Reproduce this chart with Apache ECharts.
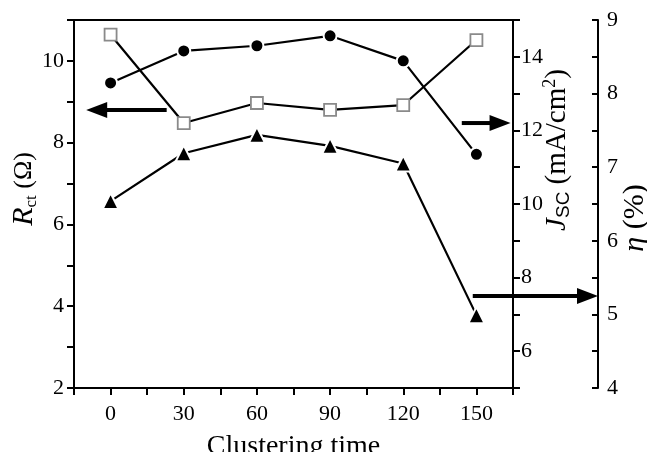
<!DOCTYPE html>
<html>
<head>
<meta charset="utf-8">
<script src="https://cdn.jsdelivr.net/npm/echarts@6/dist/echarts.min.js"></script>
<style>
  html, body { margin: 0; padding: 0; background: #fff; }
  #chart { width: 647px; height: 452px; }
</style>
</head>
<body>
<div id="chart"></div>
<script>
// clustering time (x) and the three measured quantities
const times = [0, 30, 60, 90, 120, 150];
const rct = [10.64, 8.48, 8.97, 8.80, 8.92, 10.51];   // open squares, left axis
const jsc = [13.29, 14.16, 14.30, 14.57, 13.89, 11.35]; // filled circles, Jsc axis
const eta = [6.54, 7.19, 7.44, 7.29, 7.05, 4.99];      // filled triangles, eta axis

// arrow annotations in data space: [x tail, x tip, y]
const rctArrow = [23, -10, 8.8];
const jscArrow = [144, 164, 12.2];
const etaArrow = [148.5, null, 5.25];

const FONT = '"Liberation Serif", "DejaVu Serif", serif';
const ETA_OFFSET = 85;

const chart = echarts.init(document.getElementById('chart'));

const pairs = vals => times.map((t, i) => [t, vals[i]]);
const evenOnly = v => (v % 2 === 0 ? String(v) : '');

const axisCommon = {
  type: 'value',
  splitLine: { show: false },
  axisLine: { show: true, onZero: false, lineStyle: { color: '#000', width: 2 } },
  axisTick: { show: true, length: 7, lineStyle: { color: '#000', width: 2 } },
  axisLabel: { color: '#000', fontSize: 22, fontFamily: FONT },
  nameMoveOverlap: false,
  nameTextStyle: { color: '#000', fontSize: 28, fontFamily: FONT }
};

const option = {
  backgroundColor: '#fff',
  animation: false,
  grid: {
    left: 74, right: 134, top: 20, bottom: 64,
    outerBoundsMode: 'none',
    show: true, borderColor: '#000', borderWidth: 2
  },
  xAxis: {
    ...axisCommon,
    min: -15, max: 165, interval: 15,
    axisLabel: {
      ...axisCommon.axisLabel, margin: 15,
      formatter: v => (v >= 0 && v % 30 === 0 ? String(v) : '')
    },
    name: 'Clustering time',
    nameLocation: 'middle',
    nameGap: 45
  },
  yAxis: [
    {
      ...axisCommon,
      position: 'left',
      min: 2, max: 11, interval: 1,
      axisLabel: { ...axisCommon.axisLabel, margin: 10, formatter: evenOnly },
      name: '{i|R}{sub|ct}{n| (Ω)}',
      nameLocation: 'middle',
      nameGap: 34,
      nameTextStyle: {
        ...axisCommon.nameTextStyle,
        padding: [0, 0, 0, 30],
        rich: {
          i: { fontSize: 30, fontStyle: 'italic', fontFamily: FONT, lineHeight: 32, verticalAlign: 'middle' },
          sub: { fontSize: 17, fontFamily: FONT, lineHeight: 17, verticalAlign: 'bottom' },
          n: { fontSize: 26, fontFamily: FONT, lineHeight: 32, verticalAlign: 'middle' }
        }
      }
    },
    {
      ...axisCommon,
      position: 'right',
      min: 5, max: 15, interval: 1,
      axisLabel: { ...axisCommon.axisLabel, margin: 8, formatter: evenOnly },
      name: '{i|J}{sub|SC}{n| (mA/cm}{sup|2}{n|)}',
      nameLocation: 'middle',
      nameGap: 28,
      nameTextStyle: {
        ...axisCommon.nameTextStyle,
        padding: [0, 0, 0, 108],
        rich: {
          i: { fontSize: 29, fontStyle: 'italic', fontFamily: FONT, lineHeight: 32, verticalAlign: 'middle' },
          sub: { fontSize: 19, fontFamily: '"Liberation Sans", Arial, sans-serif', lineHeight: 18, verticalAlign: 'bottom' },
          sup: { fontSize: 18, fontFamily: FONT, lineHeight: 18, verticalAlign: 'top' },
          n: { fontSize: 29, fontFamily: FONT, lineHeight: 32, verticalAlign: 'middle' }
        }
      }
    },
    {
      ...axisCommon,
      position: 'right',
      offset: ETA_OFFSET,
      min: 4, max: 9, interval: 0.5,
      axisTick: { ...axisCommon.axisTick, inside: true, length: 6 },
      axisLabel: {
        ...axisCommon.axisLabel, margin: 9,
        formatter: v => (Number.isInteger(v) ? String(v) : '')
      },
      name: '{i|η}{n| (%)}',
      nameLocation: 'middle',
      nameGap: 22,
      nameTextStyle: {
        ...axisCommon.nameTextStyle,
        padding: [0, 28, 0, 0],
        rich: {
          i: { fontSize: 30, fontStyle: 'italic', fontFamily: FONT },
          n: { fontSize: 30, fontFamily: FONT }
        }
      }
    }
  ],
  series: [
    {
      name: 'Rct',
      type: 'line',
      yAxisIndex: 0,
      data: pairs(rct),
      symbol: 'rect',
      symbolSize: 12,
      lineStyle: { color: '#000', width: 2.2 },
      itemStyle: { color: '#fff', borderColor: '#8a8a8a', borderWidth: 1.8 },
      z: 3
    },
    {
      name: 'Jsc',
      type: 'line',
      yAxisIndex: 1,
      data: pairs(jsc),
      symbol: 'circle',
      symbolSize: 13,
      lineStyle: { color: '#000', width: 2.2 },
      itemStyle: { color: '#000', borderColor: '#fff', borderWidth: 2 },
      z: 3
    },
    {
      name: 'eta',
      type: 'line',
      yAxisIndex: 2,
      data: pairs(eta),
      symbol: 'triangle',
      symbolSize: 16,
      lineStyle: { color: '#000', width: 2.2 },
      itemStyle: { color: '#000', borderColor: '#fff', borderWidth: 2 },
      z: 3
    }
  ]
};

chart.setOption(option);

// arrows drawn from data coordinates converted to pixels
function arrow(x1, y1, x2, y2) {
  const dir = Math.sign(x2 - x1);
  const head = 21, half = 8;
  return {
    type: 'group',
    children: [
      {
        type: 'line',
        shape: { x1: x1, y1: y1, x2: x2 - dir * (head - 2), y2: y2 },
        style: { stroke: '#000', lineWidth: 4 }
      },
      {
        type: 'polygon',
        shape: { points: [[x2, y2], [x2 - dir * head, y2 - half], [x2 - dir * head, y2 + half]] },
        style: { fill: '#000' }
      }
    ]
  };
}

const px = (yi, x, y) => chart.convertToPixel({ xAxisIndex: 0, yAxisIndex: yi }, [x, y]);

const a0 = px(0, rctArrow[0], rctArrow[2]);
const a0t = px(0, rctArrow[1], rctArrow[2]);
const a1 = px(1, jscArrow[0], jscArrow[2]);
const a1t = px(1, jscArrow[1], jscArrow[2]);
const a2 = px(2, etaArrow[0], etaArrow[2]);
const etaAxisX = chart.convertToPixel({ xAxisIndex: 0 }, 165) + ETA_OFFSET;

chart.setOption({
  graphic: [
    arrow(a0[0], a0[1], a0t[0], a0t[1]),
    arrow(a1[0], a1[1], a1t[0], a1t[1]),
    arrow(a2[0], a2[1], etaAxisX, a2[1])
  ]
});
</script>
</body>
</html>
